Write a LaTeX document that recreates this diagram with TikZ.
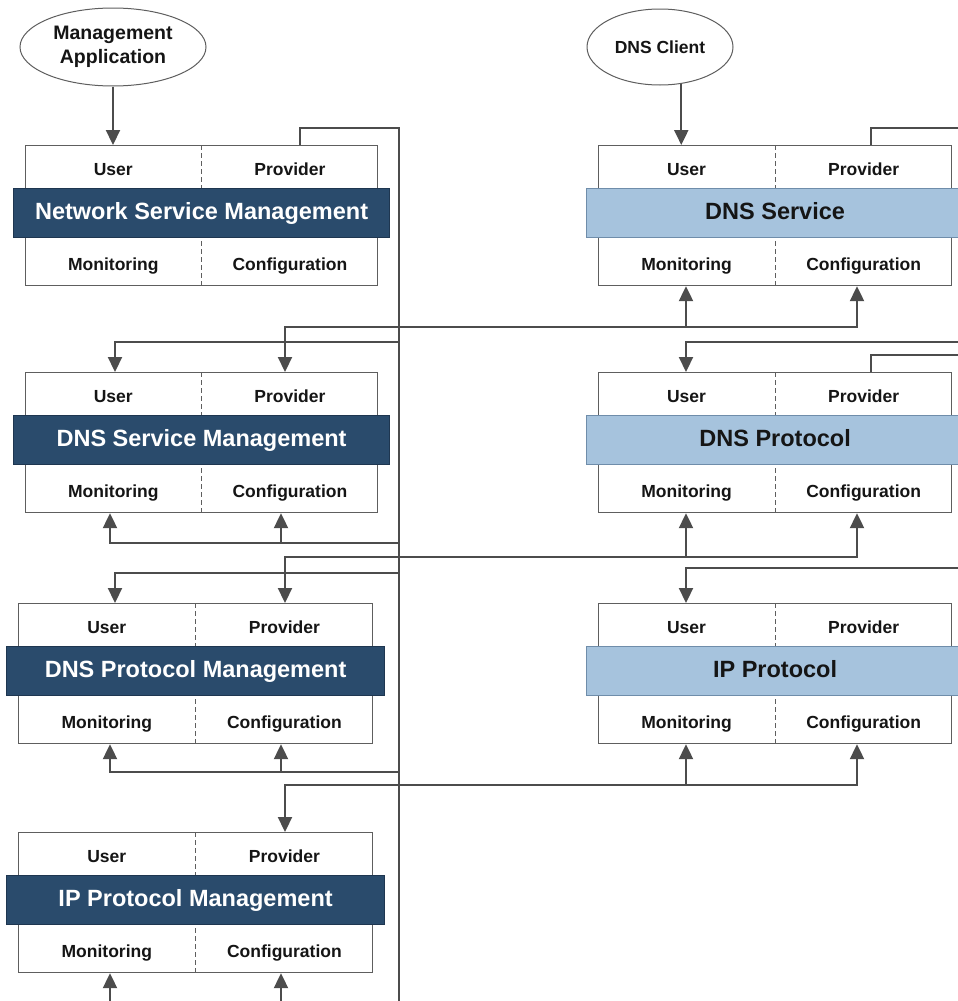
\documentclass[tikz,border=0pt]{standalone}
\usepackage{fontspec}
\setmainfont{Liberation Sans}
\usetikzlibrary{arrows.meta,calc,shapes.geometric}

\definecolor{wirecol}{HTML}{4C4C4C}
\definecolor{framecol}{HTML}{5E5E5E}
\definecolor{mgmtblue}{HTML}{2A4B6C}
\definecolor{mgmtedge}{HTML}{1E3650}
\definecolor{svcblue}{HTML}{A6C3DD}
\definecolor{svcedge}{HTML}{6F8DAA}
\definecolor{ink}{HTML}{151515}

\tikzset{
  layerframe/.style={draw=framecol, line width=1.2pt, fill=white,
    minimum height=140pt, inner sep=0pt, anchor=north west},
  divider/.style={draw=framecol, line width=0.8pt, dash pattern=on 5pt off 3pt},
  bandbase/.style={line width=0.8pt, minimum height=49pt, inner sep=0pt,
    anchor=north, text height=17pt, text depth=3pt,
    font=\fontsize{23.5}{26}\selectfont\bfseries},
  mgmtband/.style={bandbase, fill=mgmtblue, draw=mgmtedge, text=white},
  svcband/.style={bandbase, fill=svcblue, draw=svcedge, text=ink},
  parttag/.style={text=ink, inner sep=0pt, anchor=base,
    font=\fontsize{17.5}{20}\selectfont\bfseries},
  appoval/.style={ellipse, draw=framecol, line width=1pt, fill=white,
    inner sep=0pt, align=center, text=ink,
    font=\fontsize{19.5}{23.5}\selectfont\bfseries},
  linkline/.style={draw=wirecol, line width=2.2pt},
  tipshape/.tip={Triangle[length=15pt,width=14pt]},
  conn/.style={linkline, -tipshape},
  twoway/.style={linkline, tipshape-tipshape},
}

% #1 name, #2 left x, #3 top y, #4 width, #5 band style, #6 title
\newcommand\layerbox[6]{%
  \node[layerframe, minimum width=#4pt] (#1) at (#2,#3) {};
  \draw[divider] (#1.north) -- (#1.south);
  \node[#5, minimum width=#4pt+24pt] (#1-band) at ($(#1.north)+(0,43)$) {#6};
  \node[parttag] (#1-user) at ($(#1.north west)!0.25!(#1.north east)+(0,30)$) {User};
  \node[parttag] (#1-prov) at ($(#1.north west)!0.75!(#1.north east)+(0,30)$) {Provider};
  \node[parttag] (#1-mon) at ($(#1.south west)!0.25!(#1.south east)+(0,-16)$) {Monitoring};
  \node[parttag] (#1-cfg) at ($(#1.south west)!0.75!(#1.south east)+(0,-16)$) {Configuration};
}

\begin{document}
\begin{tikzpicture}[x=1pt,y=-1pt]
\useasboundingbox (0,0) rectangle (958,1001);

% applications
\node[appoval, minimum width=186pt, minimum height=78pt] (mgmtapp) at (113,47) {Management\\Application};
\node[appoval, minimum width=146pt, minimum height=76pt,
  font=\fontsize{17.5}{20}\selectfont\bfseries] (dnsclient) at (660,47) {DNS Client};

% management layers (left) and managed layers (right)
\layerbox{nsm}{25}{145}{352}{mgmtband}{Network Service Management}
\layerbox{dsm}{25}{372}{352}{mgmtband}{DNS Service Management}
\layerbox{dpm}{18}{603}{354}{mgmtband}{DNS Protocol Management}
\layerbox{ippm}{18}{832}{354}{mgmtband}{IP Protocol Management}
\layerbox{dnss}{598}{145}{353}{svcband}{DNS Service}
\layerbox{dnsp}{598}{372}{353}{svcband}{DNS Protocol}
\layerbox{ipp}{598}{603}{353}{svcband}{IP Protocol}

% connector columns
\coordinate (colNP) at (300,0);
\coordinate (colU) at (115,0);
\coordinate (colP) at (285,0);
\coordinate (colM) at (110,0);
\coordinate (colC) at (281,0);
\coordinate (colRU) at (686,0);
\coordinate (colRC) at (857,0);
\coordinate (colRP) at (871,0);

% top-level requests
\draw[conn] (mgmtapp.south) -- (mgmtapp.south |- nsm.north);
\draw[conn] (dnsclient.-60) -- (dnsclient.-60 |- dnss.north);

% management bus
\coordinate (bustop) at (399,128);
\coordinate (busend) at (399,1012);
\draw[linkline] (nsm.north -| colNP) |- (bustop) -- (busend);

\coordinate (tap1) at (399,342);
\coordinate (tap2) at (399,543);
\coordinate (tap3) at (399,573);
\coordinate (tap4) at (399,772);
\draw[conn] (tap1) -| (dsm.north -| colU);
\draw[conn] (tap2) -| (dsm.south -| colM);
\draw[conn] (tap2 -| colC) -- (dsm.south -| colC);
\draw[conn] (tap3) -| (dpm.north -| colU);
\draw[conn] (tap4) -| (dpm.south -| colM);
\draw[conn] (tap4 -| colC) -- (dpm.south -| colC);

% management of the managed layers
\coordinate (cross1) at (0,327);
\coordinate (cross2) at (0,557);
\coordinate (cross3) at (0,785);
\draw[twoway] (dsm.north -| colP) -- (cross1 -| colP) -- (cross1 -| colRC) -- (dnss.south -| colRC);
\draw[conn] (cross1 -| colRU) -- (dnss.south -| colRU);
\draw[twoway] (dpm.north -| colP) -- (cross2 -| colP) -- (cross2 -| colRC) -- (dnsp.south -| colRC);
\draw[conn] (cross2 -| colRU) -- (dnsp.south -| colRU);
\draw[twoway] (ippm.north -| colP) -- (cross3 -| colP) -- (cross3 -| colRC) -- (ipp.south -| colRC);
\draw[conn] (cross3 -| colRU) -- (ipp.south -| colRU);

% service chain on the right
\coordinate (out1) at (975,128);
\coordinate (in1) at (975,342);
\coordinate (out2) at (975,355);
\coordinate (in2) at (975,568);
\draw[linkline] (dnss.north -| colRP) |- (out1);
\draw[conn] (in1) -| (dnsp.north -| colRU);
\draw[linkline] (dnsp.north -| colRP) |- (out2);
\draw[conn] (in2) -| (ipp.north -| colRU);

% feeds into the lowest management layer
\coordinate (below) at (0,1012);
\draw[conn] (below -| colM) -- (ippm.south -| colM);
\draw[conn] (below -| colC) -- (ippm.south -| colC);
\end{tikzpicture}
\end{document}
